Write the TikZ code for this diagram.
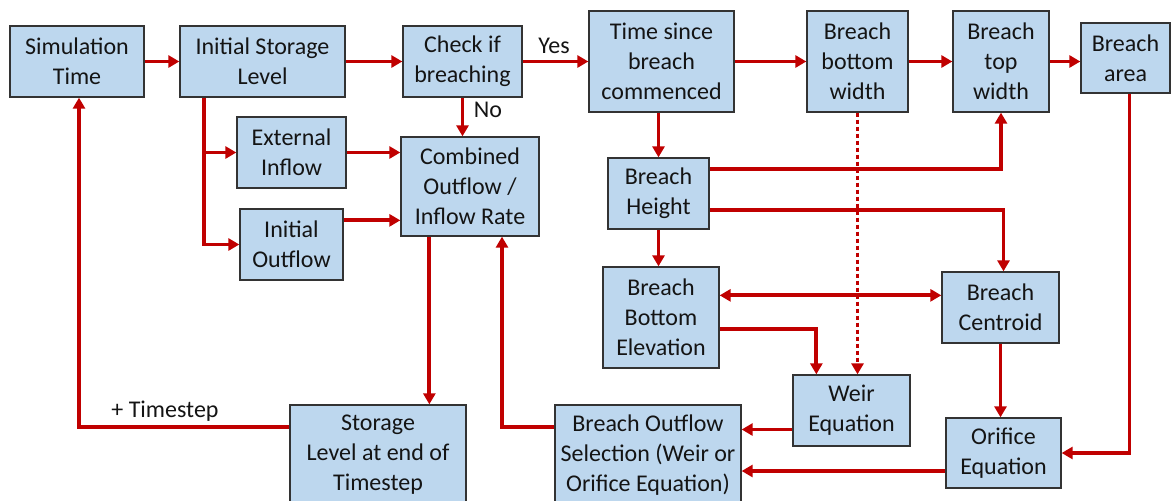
\documentclass[tikz,border=0pt]{standalone}
\usepackage{fontspec}
\setmainfont{Carlito}
\usetikzlibrary{arrows.meta}
\definecolor{boxfill}{HTML}{BDD7EE}
\definecolor{boxline}{HTML}{333333}
\definecolor{flowred}{HTML}{C00000}
\definecolor{txt}{HTML}{141414}
\begin{document}
\begin{tikzpicture}[x=1pt,y=-1pt,
  box/.style={draw=boxline,line width=1.3pt,fill=boxfill,align=center,inner sep=0pt,
    text=txt,font=\fontsize{24}{30}\selectfont},
  lbl/.style={text=txt,inner sep=0pt,font=\fontsize{24}{28}\selectfont},
  arr/.style={draw=flowred,line width=3.8pt,-{Triangle[length=11pt,width=12pt]}},
  arrboth/.style={draw=flowred,line width=3.8pt,{Triangle[length=11pt,width=12pt]}-{Triangle[length=11pt,width=12pt]}},
  dotarr/.style={arr,dash pattern=on 4pt off 3pt}]
\useasboundingbox (0,0) rectangle (1171,501);
\clip (0,0) rectangle (1171,501);
\fill[white] (0,0) rectangle (1171,501);

% top row
\node[box,minimum width=134pt,minimum height=71pt] (sim) at (77,61.5) {Simulation\\Time};
\node[box,minimum width=165pt,minimum height=71pt] (isl) at (262.5,61.5) {Initial Storage\\Level};
\node[box,minimum width=119pt,minimum height=71pt] (chk) at (462.5,61.5) {Check if\\breaching};
\node[box,minimum width=145pt,minimum height=101pt] (time) at (661.5,61.5) {Time since\\breach\\commenced};
\node[box,minimum width=101pt,minimum height=101pt] (botw) at (857.5,61.5) {Breach\\bottom\\width};
\node[box,minimum width=96pt,minimum height=101pt] (topw) at (1001,61.5) {Breach\\top\\width};
\node[box,minimum width=89pt,minimum height=70pt] (area) at (1125.5,58) {Breach\\area};

% inflow / outflow branch
\node[box,minimum width=109pt,minimum height=71pt] (inflow) at (291.5,152.5) {External\\Inflow};
\node[box,minimum width=103pt,minimum height=71pt] (outfl) at (291.5,244.5) {Initial\\Outflow};
\node[box,minimum width=138pt,minimum height=99pt] (comb) at (470,186.5) {Combined\\Outflow /\\Inflow Rate};

% breach geometry
\node[box,minimum width=101pt,minimum height=71pt] (height) at (658.5,193.5) {Breach\\Height};
\node[box,minimum width=116pt,minimum height=101pt] (be) at (661,317.5) {Breach\\Bottom\\Elevation};
\node[box,minimum width=117pt,minimum height=71pt] (cent) at (1000.5,307.5) {Breach\\Centroid};
\node[box,minimum width=117pt,minimum height=71pt] (weir) at (851.5,410.5) {Weir\\Equation};
\node[box,minimum width=115pt,minimum height=70pt] (orif) at (1003.5,453) {Orifice\\Equation};
\node[box,minimum width=186pt,minimum height=100pt] (bos) at (648,455) {Breach Outflow\\Selection (Weir or\\Orifice Equation)};
\node[box,minimum width=176pt,minimum height=100pt] (stor) at (378,455) {Storage\\Level at end of\\Timestep};

% main chain
\draw[arr] (sim.east) -- (isl.west);
\draw[arr] (isl.east) -- (chk.west);
\draw[arr] (chk.east) -- (time.west);
\node[lbl] (yes) at (554,46) {Yes};
\draw[arr] (time.east) -- (botw.west);
\draw[arr] (botw.east) -- (topw.west);
\draw[arr] (topw.east) -- (topw.east -| area.west);
\draw[arr] (chk.south) -- (chk.south |- comb.north);
\node[lbl] (no) at (488,110) {No};

% storage level branches
\coordinate (split) at ([xshift=25pt]isl.south west);
\draw[arr] (split) |- (outfl.west);
\draw[arr] (split) |- (inflow.west);
\draw[arr] (inflow.east) -- (inflow.east -| comb.west);
\draw[arr] ([yshift=-12pt]outfl.north east) -- ([yshift=-12pt]outfl.north east -| comb.west);

% timestep loop
\draw[arr] ([xshift=29pt]comb.south west) -- ([xshift=29pt]comb.south west |- stor.north);
\draw[arr] ([yshift=-23pt]stor.north west) -| ([xshift=2pt]sim.south);
\node[lbl] (ts) at (165,411) {+ Timestep};
\draw[arr] ([yshift=-23pt]bos.north west) -| ([xshift=32pt]comb.south);

% breach calculations
\draw[arr] (time.south -| height.north) -- (height.north);
\draw[arr] ([yshift=-12pt]height.north east) -| (topw.south);
\draw[arr] ([yshift=20pt]height.south east) -| ([xshift=3pt]cent.north);
\draw[arr] (height.south) -- (height.south |- be.north);
\draw[arrboth] ([yshift=-29pt]be.north east) -- ([yshift=-29pt]be.north east -| cent.west);
\draw[arr] ([yshift=-63pt]be.north east) -| ([xshift=24pt]weir.north west);
\draw[dotarr] (botw.south) -- (botw.south |- weir.north);
\draw[arr] (cent.south) -- (cent.south |- orif.north);
\draw[arr] ([xshift=4pt]area.south) |- (orif.east);
\draw[arr] ([yshift=-19pt]weir.west) -- ([yshift=-19pt]weir.west -| bos.east);
\draw[arr] ([yshift=-18pt]orif.west) -- ([yshift=-18pt]orif.west -| bos.east);
\end{tikzpicture}
\end{document}
